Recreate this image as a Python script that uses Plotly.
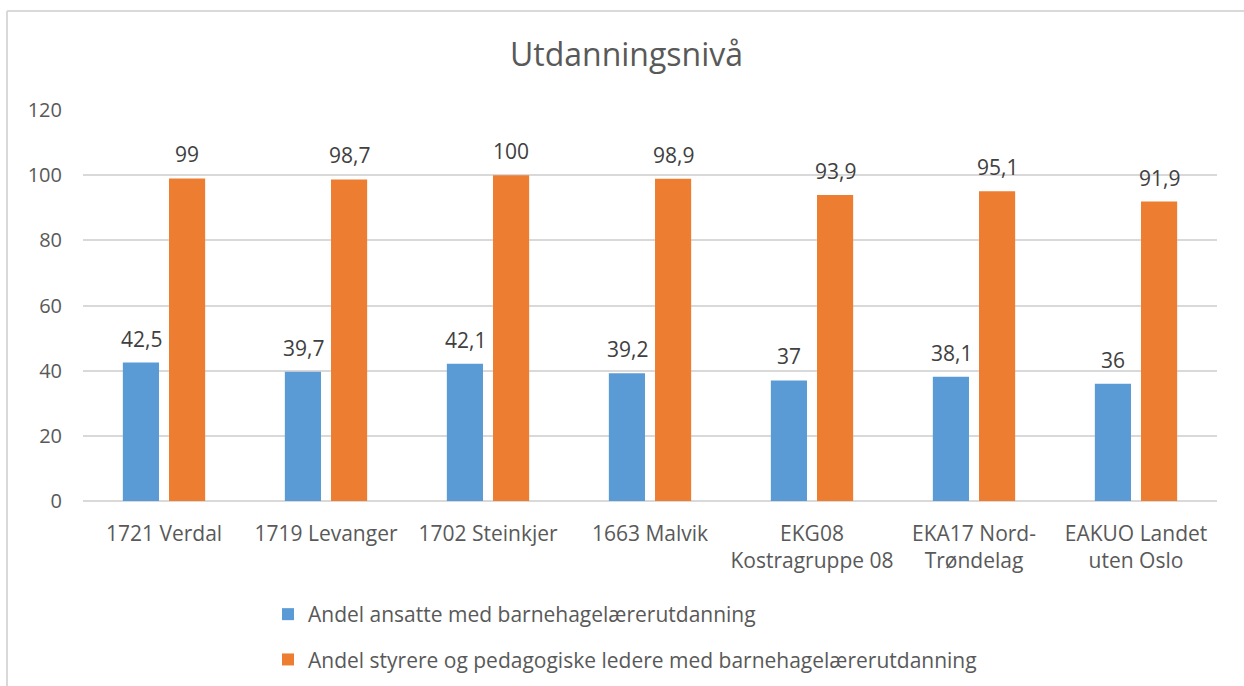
import plotly.graph_objects as go

categories = ["1721 Verdal", "1719 Levanger", "1702 Steinkjer", "1663 Malvik",
              "EKG08<br>Kostragruppe 08", "EKA17 Nord-<br>Trøndelag", "EAKUO Landet<br>uten Oslo"]
ansatte = [42.5, 39.7, 42.1, 39.2, 37, 38.1, 36]
styrere = [99, 98.7, 100, 98.9, 93.9, 95.1, 91.9]
series_names = ["Andel ansatte med barnehagelærerutdanning",
                "Andel styrere og pedagogiske ledere med barnehagelærerutdanning"]
title_text = "Utdanningsnivå"

FONT = "Open Sans"
W, H = 1244, 686
L, R, T, B = 83, 1217, 110, 501

def fmt(v):
    return ("%g" % v).replace(".", ",")

fig = go.Figure()
for name, vals, col, grp in [(series_names[0], ansatte, "#5b9bd5", "a"),
                             (series_names[1], styrere, "#ed7d31", "b")]:
    fig.add_trace(go.Bar(
        x=categories, y=vals, name=name, marker_color=col, legendgroup=grp,
        marker_line_width=0, cliponaxis=False,
    ))

# data labels above each bar
annotations = []
for vals, xs in [(ansatte, -23), (styrere, 23)]:
    for c, v in zip(categories, vals):
        annotations.append(dict(
            x=c, y=v, xref="x", yref="y", text=fmt(v), showarrow=False,
            xshift=xs, yshift=8, yanchor="bottom", xanchor="center",
            font=dict(family=FONT, size=21, color="#404040")))

px = lambda x: (x - L) / (R - L)
py = lambda y: (B - y) / (B - T)

fig.update_layout(
    width=W, height=H,
    margin=dict(l=L, r=W - R, t=T, b=H - B, autoexpand=False),
    paper_bgcolor="white", plot_bgcolor="white",
    barmode="group", bargap=0.43, bargroupgap=0.217,
    title=dict(text=title_text, x=626.5 / W, xanchor="center", y=1 - 55 / H, yanchor="middle",
               font=dict(family=FONT, size=32, color="#595959")),
    font=dict(family=FONT, color="#595959"),
    showlegend=True,
    legend=dict(orientation="v", x=px(268), xanchor="left", y=py(594), yanchor="top",
                font=dict(family=FONT, size=21, color="#595959"),
                tracegroupgap=15, traceorder="grouped",
                bgcolor="rgba(0,0,0,0)"),
    yaxis=dict(range=[0, 120], dtick=20, showgrid=True, gridcolor="#d9d9d9", gridwidth=1.5,
               zeroline=True, zerolinecolor="#d9d9d9", zerolinewidth=1.5,
               showline=False, ticks="", tickfont=dict(family=FONT, size=20, color="#595959"),
               ticklabelstandoff=20, automargin=False),
    xaxis=dict(showgrid=False, showline=False, ticks="",
               tickfont=dict(family=FONT, size=21, color="#595959"),
               ticklabelstandoff=18, automargin=False),
    annotations=annotations,
    shapes=[
        dict(type="line", xref="paper", yref="paper", x0=px(7), x1=px(1250), y0=py(11), y1=py(11),
             line=dict(color="#d9d9d9", width=2)),
        dict(type="line", xref="paper", yref="paper", x0=px(7), x1=px(7), y0=py(11), y1=py(700),
             line=dict(color="#d9d9d9", width=2)),
    ],
)

fig.write_html("out.html", config={"displayModeBar": False},
               post_script="document.body.style.margin='0';")
